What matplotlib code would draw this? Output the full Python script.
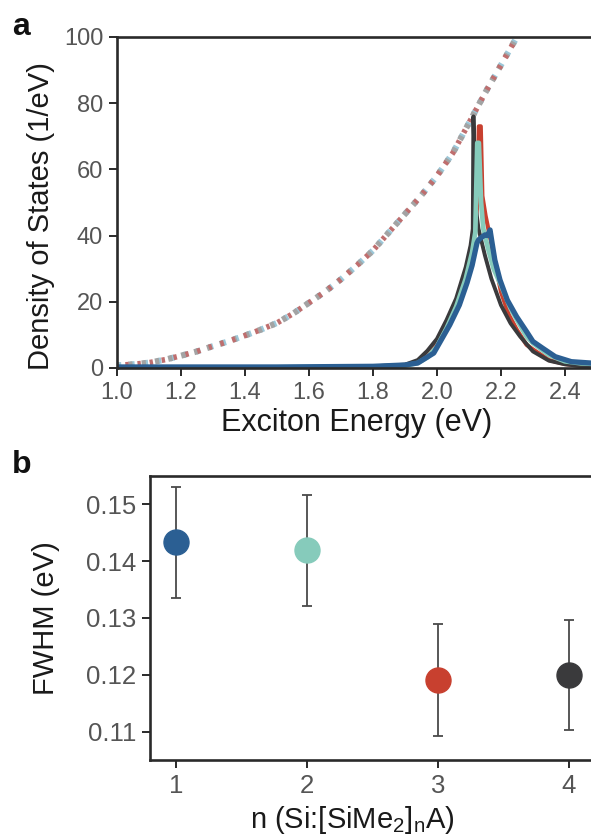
import numpy as np
import matplotlib
matplotlib.use("Agg")
import matplotlib.pyplot as plt

plt.rcParams['font.family'] = ['Liberation Sans', 'DejaVu Sans']
plt.rcParams['mathtext.default'] = 'regular'

# ---- panel a: density of states ----
dos_e = [1.00, 1.05, 1.10, 1.15, 1.20, 1.25, 1.30, 1.35, 1.40, 1.45, 1.50, 1.55,
         1.60, 1.65, 1.70, 1.75, 1.80, 1.85, 1.90, 1.95, 2.00, 2.05, 2.10, 2.15,
         2.20, 2.25, 2.27]
dos_v = [0.8, 1.1, 1.6, 2.5, 3.7, 5.0, 6.6, 8.1, 9.8, 11.6, 13.6, 16.4,
         19.7, 23.0, 26.8, 31.0, 35.5, 41.0, 46.5, 52.0, 58.0, 65.0, 74.0, 83.0,
         91.5, 100.0, 103.0]

e_n4 = [1.00, 1.50, 1.80, 1.90, 1.94, 1.97, 2.00, 2.03, 2.06, 2.09, 2.105, 2.112,
        2.114, 2.118, 2.122, 2.13, 2.14, 2.15, 2.17, 2.20, 2.23, 2.26, 2.30, 2.35,
        2.40, 2.45, 2.50]
v_n4 = [0.1, 0.2, 0.5, 1.0, 2.4, 5.2, 8.8, 14.5, 21, 30.5, 37, 42,
        76, 62, 48, 42, 38, 34, 27, 19, 13.5, 9.5, 5.0, 2.2,
        1.1, 0.6, 0.4]

e_n3 = [1.00, 1.50, 1.80, 1.90, 1.94, 1.97, 2.00, 2.03, 2.06, 2.09, 2.11, 2.125,
        2.131, 2.137, 2.142, 2.152, 2.165, 2.18, 2.20, 2.225, 2.25, 2.28, 2.30,
        2.35, 2.40, 2.45, 2.50]
v_n3 = [0.1, 0.2, 0.4, 0.8, 1.8, 4.0, 7.5, 13, 19.5, 29, 38, 48,
        73, 73, 52, 46, 40, 33, 23, 16, 11.5, 7, 5.6,
        2.4, 1.2, 0.6, 0.4]

e_n2 = [1.00, 1.50, 1.80, 1.90, 1.94, 1.97, 2.00, 2.03, 2.06, 2.09, 2.11, 2.12,
        2.126, 2.131, 2.138, 2.145, 2.16, 2.177, 2.20, 2.23, 2.25, 2.28, 2.30,
        2.35, 2.40, 2.45, 2.50]
v_n2 = [0.1, 0.2, 0.4, 0.7, 1.5, 3.2, 6.5, 12, 18.5, 27, 35, 41,
        68, 68, 50, 42, 36, 30, 25, 18, 14.5, 9.5, 7.5,
        3.9, 2.0, 1.4, 1.2]

e_n1 = [1.00, 1.50, 1.80, 1.90, 1.94, 1.99, 2.04, 2.07, 2.094, 2.11, 2.125, 2.13,
        2.14, 2.15, 2.158, 2.166, 2.172, 2.181, 2.197, 2.22, 2.249, 2.28, 2.30,
        2.33, 2.37, 2.42, 2.48, 2.50]
v_n1 = [0.3, 0.3, 0.5, 0.9, 1.5, 4.5, 13, 19, 25.7, 31, 37.7, 38.7,
        39.5, 40.2, 40, 41.7, 38, 32.6, 26.6, 20.5, 15.5, 11, 8,
        6, 3.4, 1.9, 1.5, 1.4]

# ---- panel b: FWHM ----
n_vals = [1, 2, 3, 4]
fwhm = [0.1433, 0.1419, 0.1191, 0.1199]
fwhm_err = [0.0098, 0.0098, 0.0098, 0.0097]

c_blue = '#2b5f93'
c_teal = '#86cbbb'
c_red = '#c8402f'
c_black = '#3a3a3c'
point_colors = [c_blue, c_teal, c_red, c_black]

tick_color = '#555555'
spine_color = '#2a2a2a'

fig = plt.figure(figsize=(5.91, 8.38), dpi=100)

def style_axes(ax, size=17):
    for s in ax.spines.values():
        s.set_linewidth(1.9)
        s.set_color(spine_color)
    ax.tick_params(direction='out', length=6, width=1.4, color=spine_color,
                   labelsize=size, labelcolor=tick_color, pad=4)

# panel a
ax1 = fig.add_axes([0.198, 0.5609, 0.812, 0.395])
ax1.plot(dos_e, dos_v, color='#9cc7d8', lw=4.4, ls=(0, (0.7, 1.5)))
ax1.plot(dos_e, dos_v, color='#a3a3a3', lw=4.4, ls=(0.35, (0.7, 1.5)))
ax1.plot(dos_e, dos_v, color='#bf6e6e', lw=4.0, ls=(0.7, (0.6, 1.6)))

ax1.plot(e_n3, v_n3, color=c_red, lw=3.0)
ax1.plot(e_n4, v_n4, color=c_black, lw=2.8)
ax1.plot(e_n2, v_n2, color=c_teal, lw=3.4)
ax1.plot(e_n1, v_n1, color=c_blue, lw=3.8)

ax1.set_xlim(1.0, 2.5)
ax1.set_ylim(0, 100)
ax1.set_xticks([1.0, 1.2, 1.4, 1.6, 1.8, 2.0, 2.2, 2.4])
ax1.set_xticklabels(['1.0', '1.2', '1.4', '1.6', '1.8', '2.0', '2.2', '2.4'])
ax1.set_yticks([0, 20, 40, 60, 80, 100])
style_axes(ax1)
ax1.set_xlabel('Exciton Energy (eV)', fontsize=22, color='#1a1a1a', labelpad=3)
ax1.set_ylabel('Density of States (1/eV)', fontsize=21, color='#1a1a1a')
ax1.yaxis.set_label_coords(-0.129, 0.46)

# panel b
ax2 = fig.add_axes([0.2538, 0.0931, 0.753, 0.3389])
for n, f, err, c in zip(n_vals, fwhm, fwhm_err, point_colors):
    ax2.errorbar(n, f, yerr=err, fmt='o', color=c, ms=18, mec=c,
                 ecolor='#4a4a4a', elinewidth=1.3, capsize=3.7, capthick=1.3)
ax2.set_xlim(0.8, 4.2)
ax2.set_ylim(0.105, 0.155)
ax2.set_xticks(n_vals)
ax2.set_yticks([0.11, 0.12, 0.13, 0.14, 0.15])
ax2.set_yticklabels(['0.11', '0.12', '0.13', '0.14', '0.15'])
style_axes(ax2, size=18.5)
ax2.set_xlabel(r'n (Si:[SiMe$_{2}$]$_{n}$A)', fontsize=21, color='#1a1a1a')
ax2.xaxis.set_label_coords(0.454, -0.155)
ax2.set_ylabel('FWHM (eV)', fontsize=21, color='#1a1a1a')
ax2.yaxis.set_label_coords(-0.202, 0.5)

fig.text(0.02, 0.958, 'a', fontsize=23, fontweight='bold', color='#111111')
fig.text(0.02, 0.436, 'b', fontsize=23, fontweight='bold', color='#111111')

fig.savefig('out.png', dpi=100)
